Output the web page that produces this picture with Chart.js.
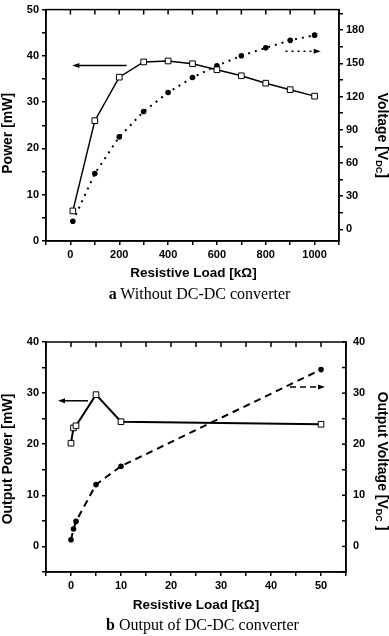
<!DOCTYPE html>
<html>
<head>
<meta charset="utf-8">
<script src="https://cdn.jsdelivr.net/npm/chart.js@4"></script>
<style>
  body { margin: 0; background: #fff; }
  #wrap { position: relative; width: 389px; height: 636px; }
  canvas { position: absolute; left: 0; }
  .cap { position: absolute; width: 389px; text-align: center; font: 16px "Liberation Serif", "Times New Roman", serif; color: #000; line-height: 18px; }
</style>
</head>
<body>
<div id="wrap">
  <canvas id="chartA" width="389" height="310" style="top:0"></canvas>
  <canvas id="chartB" width="389" height="326" style="top:310px"></canvas>
  <div class="cap" style="top:285px;left:5px"><b>a</b> Without DC-DC converter</div>
  <div class="cap" style="top:616px;left:8px"><b>b</b> Output of DC-DC converter</div>
</div>
<script>
// (a) without converter
const loadA = [10, 100, 200, 300, 400, 500, 600, 700, 800, 900, 1000];
const powerA = [6.5, 26.0, 35.4, 38.7, 38.9, 38.3, 37.0, 35.7, 34.1, 32.7, 31.3];
const voltageA = [7.3, 50.4, 83.5, 106.5, 123.6, 137.2, 147.8, 156.9, 164.0, 170.8, 175.5];

// (b) output of DC-DC converter
const loadB = [0, 0.5, 1, 5, 10, 50];
const powerB = [20.2, 23.2, 23.6, 29.7, 24.4, 23.9];
const voltageB = [1.3, 3.4, 4.9, 12.1, 15.7, 34.6];

// labelled tick values
const xLabelsA = [0, 200, 400, 600, 800, 1000];
const yLabelsA = [0, 10, 20, 30, 40, 50];
const y2LabelsA = [0, 30, 60, 90, 120, 150, 180];
const xLabelsB = [0, 10, 20, 30, 40, 50];
const yLabelsB = [0, 10, 20, 30, 40];
const y2LabelsB = [0, 10, 20, 30, 40];

const SANS = '"Liberation Sans", Arial, Helvetica, sans-serif';
Chart.defaults.font.family = SANS;
Chart.defaults.color = '#000';

function pts(xs, ys) {
  return xs.map((x, i) => ({ x: x, y: ys[i] }));
}

function axis(pos, min, max, step, labels, size, tickIn) {
  return {
    type: 'linear',
    position: pos,
    min: min,
    max: max,
    afterFit: s => { if (s.isHorizontal()) s.height = size; else s.width = size; },
    ticks: {
      stepSize: step,
      includeBounds: false,
      autoSkip: false,
      maxRotation: 0,
      padding: tickIn ? 7 : 3,
      color: '#000',
      font: { family: SANS, size: 11, weight: 'bold' },
      callback: v => labels.includes(v) ? String(v) : ''
    },
    grid: { drawOnChartArea: false, drawTicks: !tickIn, tickLength: 4, color: '#000', lineWidth: 1.5 },
    border: { display: true, color: '#000', width: 1.5 }
  };
}

function drawArrow(ctx, x1, x2, y, dash) {
  ctx.save();
  ctx.lineWidth = 1.5;
  ctx.setLineDash(dash || []);
  const dir = x2 > x1 ? 1 : -1;
  ctx.beginPath();
  ctx.moveTo(x1, y);
  ctx.lineTo(x2 - dir * 5, y);
  ctx.stroke();
  ctx.setLineDash([]);
  ctx.beginPath();
  ctx.moveTo(x2, y);
  ctx.lineTo(x2 - dir * 7, y - 2.5);
  ctx.lineTo(x2 - dir * 7, y + 2.5);
  ctx.closePath();
  ctx.fill();
  ctx.restore();
}

// text made of parts (for subscripts), rotated about its centre
function drawParts(ctx, parts, cx, cy, rot) {
  ctx.save();
  ctx.translate(cx, cy);
  ctx.rotate(rot);
  ctx.textBaseline = 'middle';
  ctx.textAlign = 'left';
  let total = 0;
  parts.forEach(p => {
    ctx.font = 'bold ' + p.size + 'px ' + SANS;
    p.w = ctx.measureText(p.t).width;
    total += p.w;
  });
  let x = -total / 2;
  parts.forEach(p => {
    ctx.font = 'bold ' + p.size + 'px ' + SANS;
    ctx.fillText(p.t, x, p.dy || 0);
    x += p.w;
  });
  ctx.restore();
}

const framePlugin = {
  id: 'frame',
  afterDraw(chart, args, o) {
    const { ctx, chartArea: a, scales } = chart;
    const xs = scales.x;
    ctx.save();
    ctx.strokeStyle = '#000';
    ctx.fillStyle = '#000';
    ctx.lineWidth = 1.5;
    ctx.strokeRect(a.left, a.top, a.right - a.left, a.bottom - a.top);

    // top axis ticks, pointing in
    xs.ticks.forEach(t => {
      const px = xs.getPixelForValue(t.value);
      ctx.beginPath();
      ctx.moveTo(px, a.top);
      ctx.lineTo(px, a.top + 5);
      ctx.stroke();
    });

    // inward ticks on right axis if asked
    if (o.rightIn) {
      const r = scales.y2;
      r.ticks.forEach(t => {
        const py = r.getPixelForValue(t.value);
        ctx.beginPath();
        ctx.moveTo(a.right, py);
        ctx.lineTo(a.right - 4, py);
        ctx.stroke();
      });
    }

    // series arrows
    o.arrows.forEach(ar => {
      const ys = scales[ar.axis];
      drawArrow(ctx, xs.getPixelForValue(ar.from), xs.getPixelForValue(ar.to), ys.getPixelForValue(ar.y), ar.dash);
    });

    // axis titles
    drawParts(ctx, [{ t: o.xTitle, size: 13.5 }], o.xTitleX, o.xTitleY, 0);
    drawParts(ctx, [{ t: o.yTitle, size: 14 }], 8, (a.top + a.bottom) / 2 + o.yShift, -Math.PI / 2);
    drawParts(ctx, o.y2Title, o.y2X, (a.top + a.bottom) / 2 + o.y2Shift, Math.PI / 2);
    ctx.restore();
  }
};

const common = {
  responsive: false,
  animation: false,
  plugins: { legend: { display: false }, tooltip: { enabled: false } }
};

new Chart(document.getElementById('chartA'), {
  type: 'line',
  data: {
    datasets: [
      {
        data: pts(loadA, powerA), yAxisID: 'y',
        borderColor: '#000', borderWidth: 1.5,
        pointStyle: 'rect', pointRadius: 4, pointBackgroundColor: '#fff',
        pointBorderColor: '#000', pointBorderWidth: 1
      },
      {
        data: pts(loadA, voltageA), yAxisID: 'y2',
        borderColor: '#000', borderWidth: 2, borderDash: [2, 5],
        pointStyle: 'circle', pointRadius: 2.8, pointBackgroundColor: '#000',
        pointBorderColor: '#000', pointBorderWidth: 0
      }
    ]
  },
  options: Object.assign({}, common, {
    layout: { padding: { top: 5, left: 0, right: 0, bottom: 0 } },
    scales: {
      x: axis('bottom', -100, 1100, 100, xLabelsA, 69),
      y: axis('left', 0, 50, 5, yLabelsA, 46),
      y2: axis('right', -10.6, 198.6, 15, y2LabelsA, 50)
    },
    plugins: Object.assign({}, common.plugins, {
      frame: {
        arrows: [
          { axis: 'y', from: 230, to: 8, y: 37.9 },
          { axis: 'y2', from: 881, to: 1025, y: 161, dash: [2, 4] }
        ],
        xTitle: 'Resistive Load [kΩ]', xTitleX: 193.5, xTitleY: 273,
        yTitle: 'Power [mW]', yShift: 8,
        y2Title: [{ t: 'Voltage [V', size: 14 }, { t: 'DC', size: 9, dy: 4 }, { t: ']', size: 14 }],
        y2X: 382, y2Shift: 10
      }
    })
  }),
  plugins: [framePlugin]
});

new Chart(document.getElementById('chartB'), {
  type: 'line',
  data: {
    datasets: [
      {
        data: pts(loadB, powerB), yAxisID: 'y',
        borderColor: '#000', borderWidth: 2,
        pointStyle: 'rect', pointRadius: 4, pointBackgroundColor: '#fff',
        pointBorderColor: '#000', pointBorderWidth: 1
      },
      {
        data: pts(loadB, voltageB), yAxisID: 'y2',
        borderColor: '#000', borderWidth: 2, borderDash: [7, 5],
        pointStyle: 'circle', pointRadius: 2.8, pointBackgroundColor: '#000',
        pointBorderColor: '#000', pointBorderWidth: 0
      }
    ]
  },
  options: Object.assign({}, common, {
    layout: { padding: { top: 32, left: 0, right: 0, bottom: 0 } },
    scales: {
      x: axis('bottom', -5, 55, 5, xLabelsB, 64),
      y: axis('left', -5, 40, 5, yLabelsB, 46),
      y2: axis('right', -5, 40, 5, y2LabelsB, 43, true)
    },
    plugins: Object.assign({}, common.plugins, {
      frame: {
        rightIn: true,
        arrows: [
          { axis: 'y', from: 3.4, to: -2.6, y: 28.5 },
          { axis: 'y2', from: 43.8, to: 50.8, y: 31.2, dash: [6, 4] }
        ],
        xTitle: 'Resistive Load [kΩ]', xTitleX: 196, xTitleY: 295,
        yTitle: 'Output Power [mW]', yShift: 2,
        y2Title: [{ t: 'Output Voltage [V', size: 14 }, { t: 'DC', size: 9, dy: 4 }, { t: ' ]', size: 14 }],
        y2X: 382, y2Shift: 4
      }
    })
  }),
  plugins: [framePlugin]
});
</script>
</body>
</html>
